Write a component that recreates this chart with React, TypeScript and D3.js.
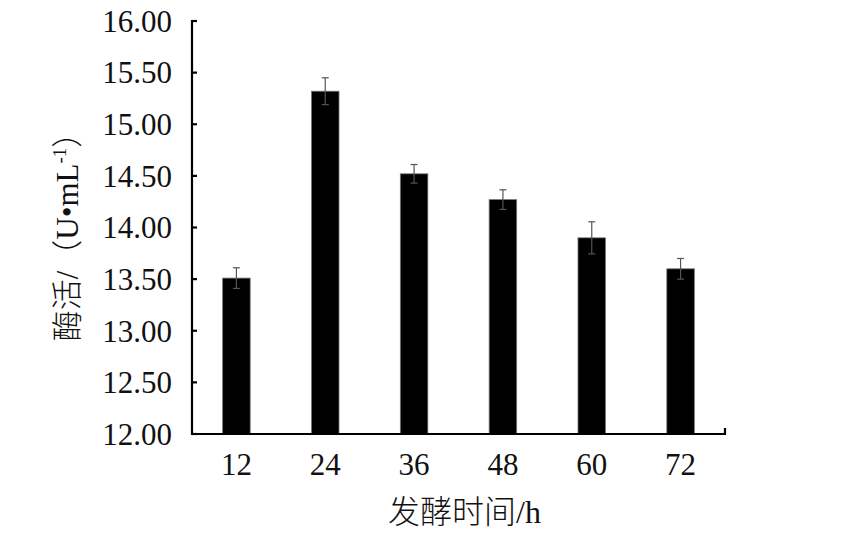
import * as d3 from 'd3';

const hours = ['12', '24', '36', '48', '60', '72'];
const activity = [13.51, 15.32, 14.52, 14.27, 13.9, 13.6];
const errors = [0.1, 0.13, 0.09, 0.095, 0.155, 0.1];
const yTicks = [12, 12.5, 13, 13.5, 14, 14.5, 15, 15.5, 16];

const width = 842;
const height = 538;
const margin = { top: 21, right: 117, bottom: 104, left: 192 };

const serif = '"Liberation Serif", "Times New Roman", "Noto Sans CJK SC", serif';

export default function App() {
  const innerW = width - margin.left - margin.right;
  const innerH = height - margin.top - margin.bottom;

  const x = d3.scaleBand<string>().domain(hours).range([0, innerW]).paddingInner(0.69).paddingOuter(0.345);
  const y = d3.scaleLinear().domain([12, 16]).range([innerH, 0]);

  const capW = 7;

  return (
    <svg
      width={width}
      height={height}
      style={{ position: 'absolute', left: 0, top: 0, background: '#fff' }}
      fontFamily={serif}
    >
      <g transform={`translate(${margin.left},${margin.top})`}>
        {/* Bars */}
        {hours.map((h, i) => (
          <rect
            key={h}
            x={x(h)}
            y={y(activity[i])}
            width={x.bandwidth()}
            height={innerH - y(activity[i])}
            fill="#000"
            stroke="#777"
            strokeWidth={0.8}
          />
        ))}

        {/* Error bars */}
        {hours.map((h, i) => {
          const cx = (x(h) ?? 0) + x.bandwidth() / 2;
          const top = y(activity[i] + errors[i]);
          const bot = y(activity[i] - errors[i]);
          return (
            <g key={`e${h}`} stroke="#555" strokeWidth={1.2}>
              <line x1={cx} x2={cx} y1={top} y2={bot} />
              <line x1={cx - capW / 2} x2={cx + capW / 2} y1={top} y2={top} />
              <line x1={cx - capW / 2} x2={cx + capW / 2} y1={bot} y2={bot} />
            </g>
          );
        })}

        {/* Y axis */}
        <line x1={0} x2={0} y1={y(16) - 1} y2={innerH + 1} stroke="#000" strokeWidth={2.2} />
        {yTicks.map((t) => (
          <g key={t} transform={`translate(0,${y(t)})`}>
            <line x1={0} x2={5} stroke="#000" strokeWidth={2.2} />
            <text x={-20} dy="0.35em" textAnchor="end" fontSize={31} fill="#111">
              {t.toFixed(2)}
            </text>
          </g>
        ))}

        {/* X axis */}
        <line x1={-1} x2={innerW} y1={innerH} y2={innerH} stroke="#000" strokeWidth={2.2} />
        <line x1={innerW} x2={innerW} y1={innerH - 6} y2={innerH + 1} stroke="#000" strokeWidth={2.2} />
        {hours.map((h) => (
          <text
            key={`t${h}`}
            x={(x(h) ?? 0) + x.bandwidth() / 2}
            y={innerH + 41}
            textAnchor="middle"
            fontSize={31}
            fill="#111"
          >
            {h}
          </text>
        ))}

        {/* X title */}
        <text x={innerW / 2 + 6} y={innerH + 89} textAnchor="middle" fontSize={32} fontWeight={300} fill="#111">
          发酵时间/h
        </text>

        {/* Y title */}
        <text
          transform={`translate(${67 - margin.left},${229 - margin.top}) rotate(-90)`}
          textAnchor="middle"
          dy="0.35em"
          fontSize={31}
          fontWeight={300}
          fill="#111"
        >
          酶活/（U•mL
          <tspan fontSize={19} dy={-12}>-1</tspan>
          <tspan dy={12}>）</tspan>
        </text>
      </g>
    </svg>
  );
}
